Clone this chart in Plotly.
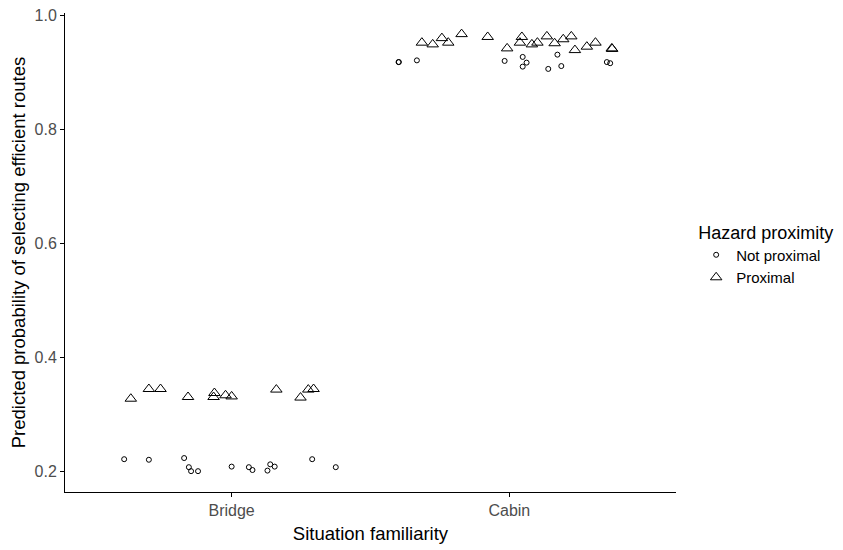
import plotly.graph_objects as go

categories = ["Bridge", "Cabin"]

# Jittered positions (category index + jitter) and predicted probabilities
bridge_prox_x = [0.637, 0.702, 0.744, 0.843, 0.938, 0.935, 0.978, 1.000, 1.161, 1.248, 1.276, 1.295]
bridge_prox_y = [0.328, 0.345, 0.345, 0.331, 0.338, 0.331, 0.334, 0.332, 0.344, 0.330, 0.344, 0.345]

bridge_notprox_x = [0.613, 0.702, 0.829, 0.846, 0.854, 0.879, 1.000, 1.062, 1.075, 1.129, 1.139, 1.155, 1.290, 1.375]
bridge_notprox_y = [0.222, 0.221, 0.224, 0.208, 0.201, 0.201, 0.209, 0.208, 0.203, 0.202, 0.213, 0.209, 0.222, 0.208]

cabin_prox_x = [1.685, 1.724, 1.757, 1.780, 1.828, 1.922, 1.992, 2.045, 2.038, 2.081, 2.101, 2.135, 2.163, 2.194, 2.223, 2.236, 2.279, 2.310, 2.369, 2.370]
cabin_prox_y = [0.952, 0.949, 0.960, 0.952, 0.967, 0.962, 0.942, 0.962, 0.952, 0.949, 0.952, 0.963, 0.951, 0.958, 0.963, 0.939, 0.945, 0.952, 0.942, 0.941]

cabin_notprox_x = [1.601, 1.602, 1.667, 1.983, 2.048, 2.062, 2.048, 2.173, 2.187, 2.140, 2.351, 2.363]
cabin_notprox_y = [0.918, 0.918, 0.921, 0.920, 0.927, 0.917, 0.910, 0.931, 0.911, 0.906, 0.918, 0.916]

y_ticks = [0.2, 0.4, 0.6, 0.8, 1.0]

fig = go.Figure()
fig.add_trace(go.Scatter(
    x=bridge_notprox_x + cabin_notprox_x, y=bridge_notprox_y + cabin_notprox_y,
    mode="markers", name="Not proximal",
    marker=dict(symbol="circle-open", size=5, color="black", line=dict(width=1, color="black")),
))
fig.add_trace(go.Scatter(
    x=bridge_prox_x + cabin_prox_x, y=bridge_prox_y + cabin_prox_y,
    mode="markers", name="Proximal",
    marker=dict(symbol="triangle-up-open", size=10, color="black", line=dict(width=1, color="black")),
))

fig.update_layout(
    width=843, height=550,
    margin=dict(l=57, r=175, t=5, b=66),
    paper_bgcolor="white", plot_bgcolor="white",
    font=dict(family="Liberation Sans, Arial, sans-serif", color="black"),
    legend=dict(
        title=dict(text="Hazard proximity", font=dict(size=18, color="black")),
        font=dict(size=15, color="black"),
        x=1.033, y=0.578, xanchor="left", yanchor="top",
        tracegroupgap=0, itemsizing="trace", itemwidth=30,
    ),
    xaxis=dict(
        range=[0.4, 2.6], tickvals=[1, 2], ticktext=categories,
        showline=True, linecolor="black", linewidth=1,
        ticks="outside", ticklen=4, tickcolor="black",
        showgrid=False, zeroline=False, automargin=False,
        tickfont=dict(size=16, color="#4D4D4D"),
        title=dict(text="Situation familiarity", font=dict(size=18.5, color="black"), standoff=8),
    ),
    yaxis=dict(
        range=[0.1645, 1.004], tickvals=y_ticks, tickformat=".1f",
        showline=True, linecolor="black", linewidth=1,
        ticks="outside", ticklen=4, tickcolor="black",
        showgrid=False, zeroline=False, automargin=False,
        ticklabeloverflow="allow",
        tickfont=dict(size=16, color="#4D4D4D"),
        title=dict(text="Predicted probability of selecting efficient routes", font=dict(size=18.5, color="black"), standoff=6),
    ),
)

fig.write_html("out.html")
